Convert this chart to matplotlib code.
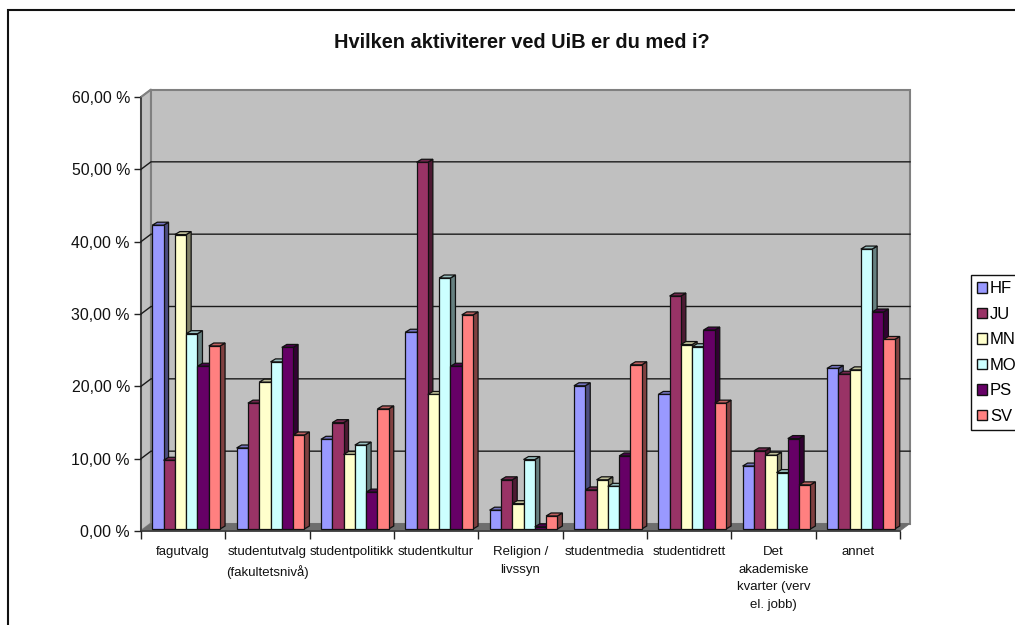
import numpy as np
import matplotlib.pyplot as plt
from matplotlib.patches import Patch, Rectangle

categories = ['fagutvalg', 'studentutvalg\n(fakultetsnivå)', 'studentpolitikk', 'studentkultur',
              'Religion /\nlivssyn', 'studentmedia', 'studentidrett',
              'Det\nakademiske\nkvarter (verv\nel. jobb)', 'annet']
series = ['HF', 'JU', 'MN', 'MO', 'PS', 'SV']

hf = [42.0, 11.2, 12.4, 27.2, 2.6, 19.8, 18.6, 8.7, 22.2]
ju = [9.5, 17.4, 14.7, 50.7, 6.8, 5.4, 32.2, 10.8, 21.4]
mn = [40.7, 20.3, 10.3, 18.6, 3.5, 6.8, 25.5, 10.2, 22.0]
mo = [27.0, 23.1, 11.6, 34.7, 9.6, 5.9, 25.2, 7.8, 38.7]
ps = [22.5, 25.1, 5.1, 22.5, 0.3, 10.1, 27.5, 12.5, 30.0]
sv = [25.3, 13.0, 16.6, 29.6, 1.8, 22.7, 17.4, 6.1, 26.2]
values = [hf, ju, mn, mo, ps, sv]

colors = ['#9999FF', '#993366', '#FFFFCC', '#CCFFFF', '#660066', '#FF8080']
yticks = [0, 10, 20, 30, 40, 50, 60]

W, H = 1015, 625
plt.rcParams['font.family'] = ['Liberation Sans', 'DejaVu Sans']

fig = plt.figure(figsize=(W / 100, H / 100), dpi=100)
ax = fig.add_axes([141 / W, (H - 531) / H, 759 / W, 434 / H])
ax.set_xlim(0, 9)
ax.set_ylim(0, 60)
ax.patch.set_visible(False)

# px -> data
px = 9 / 759
py = 60 / 434
wall_dx, wall_dy = 10 * px, 7.5 * py
base_dx, base_dy = 3 * px, 2 * py
bar_dx, bar_dy = 5 * px, 3 * py
bar_w = 11.3 * px


def shade(c, f):
    rgb = np.array(plt.matplotlib.colors.to_rgb(c))
    return tuple(rgb * f)


# vegger og gulv
ax.fill([0, wall_dx, wall_dx, 0], [0, wall_dy, 60 + wall_dy, 60], fc='#C0C0C0', ec='#808080', lw=1.5, clip_on=False, zorder=1)
ax.fill([wall_dx, 9 + wall_dx, 9 + wall_dx, wall_dx], [wall_dy, wall_dy, 60 + wall_dy, 60 + wall_dy],
        fc='#C0C0C0', ec='#808080', lw=1.5, clip_on=False, zorder=1)
ax.fill([0, 9, 9 + wall_dx, wall_dx], [0, 0, wall_dy, wall_dy], fc='#6E6E6E', ec='#6E6E6E', lw=0.5, clip_on=False, zorder=1)

for t in yticks[1:-1]:
    ax.plot([0, wall_dx, 9 + wall_dx], [t, t + wall_dy, t + wall_dy], color='#1A1A1A', lw=1, clip_on=False, zorder=2)
ax.plot([0, wall_dx], [60, 60 + wall_dy], color='#808080', lw=1, clip_on=False, zorder=2)

# stolpene, tegnes fra venstre
z = 3
for i in range(len(categories)):
    start = i + 0.5 - 3 * bar_w
    for j in range(len(series)):
        v = values[j][i]
        x0 = start + j * bar_w + base_dx
        x1 = x0 + bar_w
        y0 = base_dy
        y1 = v + base_dy
        ax.fill([x1, x1 + bar_dx, x1 + bar_dx, x1], [y0, y0 + bar_dy, y1 + bar_dy, y1],
                fc=shade(colors[j], 0.5), ec='#111111', lw=0.9, clip_on=False, zorder=z)
        ax.fill([x0, x1, x1 + bar_dx, x0 + bar_dx], [y1, y1, y1 + bar_dy, y1 + bar_dy],
                fc=shade(colors[j], 0.75), ec='#111111', lw=0.9, clip_on=False, zorder=z)
        ax.bar(x0, v, width=bar_w, bottom=y0, align='edge', color=colors[j], edgecolor='#111111', lw=0.9, clip_on=False, zorder=z + 0.5)
        z += 1

for s in ['top', 'right']:
    ax.spines[s].set_visible(False)
for s in ['left', 'bottom']:
    ax.spines[s].set_color('#404040')
    ax.spines[s].set_linewidth(1.3)
    ax.spines[s].set_zorder(1.5)

ax.set_yticks(yticks)
ax.set_yticklabels([f'{t},00 %' for t in yticks], fontsize=11.4, color='#111111')
ax.tick_params(axis='y', length=5, width=1, color='#222222', pad=3)
ax.set_xticks(range(10))
ax.set_xticklabels([])
ax.tick_params(axis='x', which='major', length=6, width=1, color='#222222')
ax.set_xticks(np.arange(9) + 0.5, minor=True)
ax.set_xticklabels(categories, minor=True, fontsize=9.5, color='#111111', linespacing=1.62)
ax.tick_params(axis='x', which='minor', length=0, pad=11)

fig.text(521.5 / W, (H - 43) / H, 'Hvilken aktiviterer ved UiB er du med i?', ha='center', va='center', fontsize=14.4, fontweight='bold', color='#111111')

# ytre ramme, går ut over bildet
fig.add_artist(Rectangle((8 / W, (H - 640) / H), 1100 / W, 630 / H, transform=fig.transFigure, fill=False, ec='#111111', lw=1.5))

handles = [Patch(fc=c, ec='#111111', lw=1) for c in colors]
fig.legend(handles, series, loc='upper left', bbox_to_anchor=(971 / W, (H - 430) / H, 90 / W, 155 / H), mode='expand',
           fontsize=12, frameon=True, fancybox=False, edgecolor='#111111', framealpha=1, borderaxespad=0,
           borderpad=0.38, labelspacing=0.63, handlelength=0.6, handleheight=0.6, handletextpad=0.15)

fig.savefig('out.png', dpi=100)
